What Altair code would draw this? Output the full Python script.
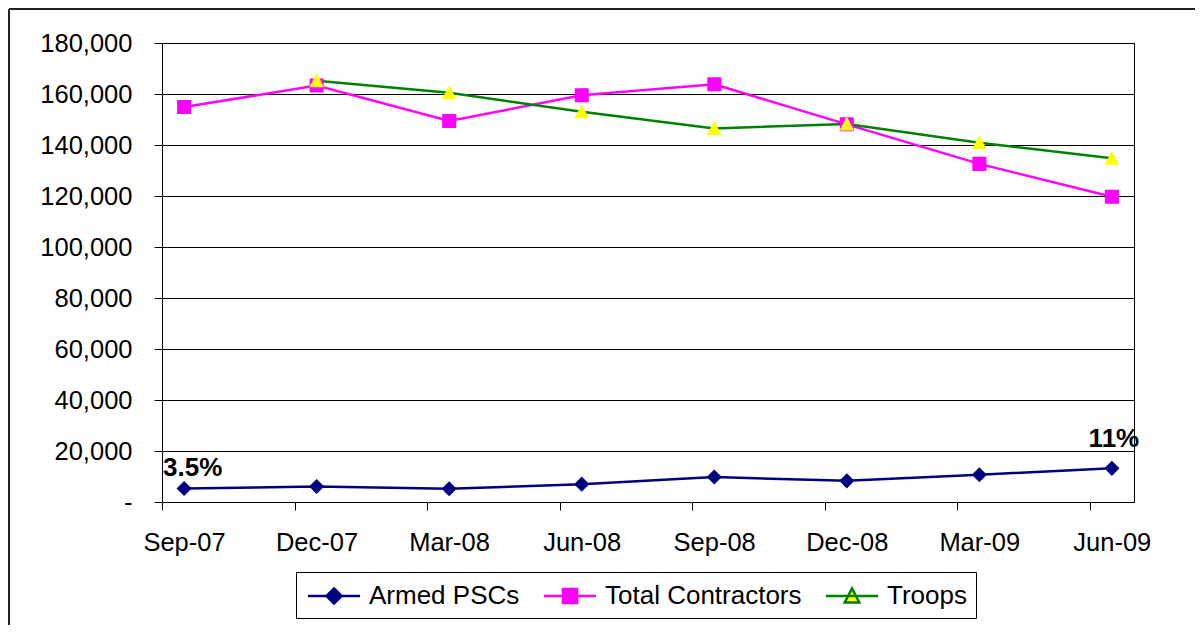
import altair as alt
import pandas as pd

# ---- data ----
months = ["Sep-07", "Dec-07", "Mar-08", "Jun-08", "Sep-08", "Dec-08", "Mar-09", "Jun-09"]
armed_pscs = [5300, 6100, 5200, 7000, 9800, 8300, 10700, 13200]
total_contractors = [154900, 163300, 149400, 159500, 163800, 148100, 132600, 119700]
troops = [None, 165200, 160500, 153000, 146500, 148200, 140900, 134800]
armed_share_labels = ["3.5%", "", "", "", "", "", "", "11%"]
series_names = ["Armed PSCs", "Total Contractors", "Troops"]
y_ticks = [0, 20000, 40000, 60000, 80000, 100000, 120000, 140000, 160000, 180000]

line_colors = ["#000080", "#FF00FF", "#008000"]
marker_colors = ["#000080", "#FF00FF", "#FFFF00"]

FONT = "Liberation Sans, Arial, sans-serif"

# month index: each quarter label sits in the middle of its month slot
rows = []
for name, vals in zip(series_names, [armed_pscs, total_contractors, troops]):
    for i, (mon, v) in enumerate(zip(months, vals)):
        if v is None:
            continue
        rows.append({
            "series": name,
            "month": mon,
            "m": 3 * i + 0.5,
            "value": v,
            "label": armed_share_labels[i] if name == "Armed PSCs" else "",
        })
df = pd.DataFrame(rows)

# marker shapes; the leading zero-area span is only visible (stroked) in the legend
diamond = "M-1.93,0L1.93,0M0,-0.56L0.56,0L0,0.56L-0.56,0Z"
square = "M-1.93,0L1.93,0M-0.52,-0.52H0.52V0.52H-0.52Z"
triangle = "M-1.93,0L1.93,0M0,-0.56L0.54,0.48L-0.54,0.48Z"

SYM = 729

x_enc = alt.X(
    "m:Q",
    scale=alt.Scale(domain=[0, 22], nice=False, zero=False),
    axis=alt.Axis(
        values=[0, 3, 6, 9, 12, 15, 18, 21],
        labelExpr="[" + ",".join("'%s'" % m for m in months) + "][round(datum.value/3)]",
        labelOffset=22,
        tickSize=8,
        tickColor="black",
        domainColor="black",
        grid=False,
        labelPadding=20,
        labelFont=FONT,
        labelFontSize=25.5,
        labelColor="black",
        labelFlush=False,
        labelOverlap=False,
        title=None,
    ),
)
y_enc = alt.Y(
    "value:Q",
    scale=alt.Scale(domain=[0, 180000], nice=False),
    axis=alt.Axis(
        values=y_ticks,
        labelExpr="datum.value == 0 ? '-\u00a0\u00a0\u00a0\u00a0' : format(datum.value, ',')",
        tickSize=8,
        tickColor="black",
        domainColor="black",
        grid=True,
        gridColor="black",
        gridWidth=1,
        labelPadding=22,
        labelFont=FONT,
        labelFontSize=25.5,
        labelColor="black",
        title=None,
    ),
)

legend = alt.Legend(
    title=None,
    orient="none",
    legendX=134,
    legendY=529,
    direction="horizontal",
    symbolSize=SYM,
    symbolStrokeWidth=2.5,
    symbolOffset=14,
    labelFont=FONT,
    labelFontSize=26,
    labelColor="black",
    labelLimit=400,
    labelOffset=20,
    columnPadding=18,
    padding=9,
    strokeColor="black",
)

base = alt.Chart(df)

line_layers = []
for name, col in zip(series_names, line_colors):
    line_layers.append(
        base.transform_filter(alt.datum.series == name)
        .mark_line(strokeWidth=2.5, color=col)
        .encode(x=x_enc, y=y_enc, order="m:Q")
    )

points = base.mark_point(filled=True, opacity=1, size=SYM, strokeWidth=0).encode(
    x="m:Q",
    y="value:Q",
    shape=alt.Shape(
        "series:N",
        scale=alt.Scale(domain=series_names, range=[diamond, square, triangle]),
        legend=legend,
    ),
    fill=alt.Fill(
        "series:N",
        scale=alt.Scale(domain=series_names, range=marker_colors),
        legend=legend,
    ),
    stroke=alt.Stroke(
        "series:N",
        scale=alt.Scale(domain=series_names, range=line_colors),
        legend=legend,
    ),
)

first_note = base.transform_filter(alt.datum.label == "3.5%").mark_text(
    font=FONT, fontSize=26, fontWeight="bold", color="black",
    align="left", baseline="alphabetic", dx=-21, dy=-12,
).encode(x="m:Q", y="value:Q", text="label:N")

last_note = base.transform_filter(alt.datum.label == "11%").mark_text(
    font=FONT, fontSize=26, fontWeight="bold", color="black",
    align="center", baseline="alphabetic", dx=2, dy=-21,
).encode(x="m:Q", y="value:Q", text="label:N")

frame_data = alt.Data(values=[{}])
left_frame = alt.Chart(frame_data).mark_rule(color="#222", strokeWidth=2).encode(
    x=alt.value(-153), y=alt.value(-34), y2=alt.value(590)
)
top_frame = alt.Chart(frame_data).mark_rule(color="#222", strokeWidth=2).encode(
    x=alt.value(-153), x2=alt.value(1033), y=alt.value(-34)
)

chart = (
    alt.layer(left_frame, top_frame, *line_layers, points, first_note, last_note)
    .properties(
        width=972,
        height=459,
        autosize="none",
        padding={"left": 154, "top": 35, "right": 61, "bottom": 123},
        background="white",
    )
    .configure_view(stroke="black", strokeWidth=1)
)

chart.save("out.html", embed_options={"renderer": "svg", "actions": False})
